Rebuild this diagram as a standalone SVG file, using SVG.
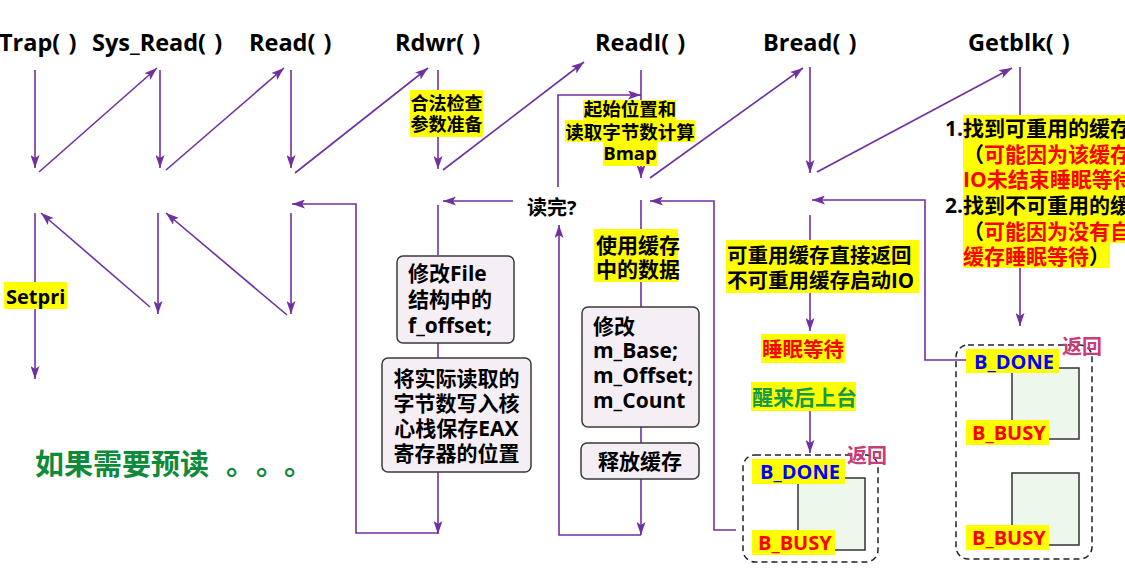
<svg xmlns="http://www.w3.org/2000/svg" width="1125" height="569" viewBox="0 0 1125 569">
<style>
text{font-family:"Open Sans","Noto Sans CJK SC",sans-serif;font-weight:bold;fill:#000}
.t{font-size:23.5px;word-spacing:2px}
.cj{font-family:"Noto Sans CJK SC",sans-serif}
.hl{fill:#ffff00}
.box{fill:#f5eff5;stroke:#3a3a3a;stroke-width:1.5}
.dash{fill:none;stroke:#222;stroke-width:1.5;stroke-dasharray:6 4}
.buf{fill:#edf7ec;stroke:#333;stroke-width:1.5}
.ln{fill:none;stroke:#7030a0;stroke-width:1.6}
.ar{marker-end:url(#ah)}
.red{fill:#ff0000}
.blue{fill:#0000ff}
.back{fill:#c83c78;font-size:20px}
.grn{fill:#0f8a3a;font-size:29px}
</style>
<defs>
<marker id="ah" viewBox="0 0 13 9" refX="13" refY="4.5" markerWidth="13" markerHeight="9" markerUnits="userSpaceOnUse" orient="auto">
<path d="M0,0 L13,4.5 L0,9 L3,4.5 z" fill="#7030a0"/>
</marker>
</defs>
<rect width="1125" height="569" fill="#fff"/>

<g id="connectors">
<path class="ln ar" d="M35,70 V168"/>
<path class="ln ar" d="M39,172 L157,68"/>
<path class="ln ar" d="M160,70 V168"/>
<path class="ln ar" d="M166,170 L284,68"/>
<path class="ln ar" d="M291,70 V168"/>
<path class="ln ar" d="M295,173 L428,68"/>
<path class="ln ar" d="M438,70 V169"/>
<path class="ln ar" d="M443,170 L584,62"/>
<path class="ln ar" d="M641,70 V178"/>
<path class="ln ar" d="M558,187 V95 H641"/>
<path class="ln ar" d="M650,178 L803,68"/>
<path class="ln ar" d="M810,67 V173"/>
<path class="ln ar" d="M817,172 L1012,68"/>
<path class="ln ar" d="M1020,67 V326"/>
<path class="ln ar" d="M35,213 V379"/>
<path class="ln ar" d="M150,307 L41,213"/>
<path class="ln ar" d="M158,213 V314"/>
<path class="ln ar" d="M287,315 L166,213"/>
<path class="ln ar" d="M291,213 V314"/>
<path class="ln ar" d="M438,533 H356 V204 H292"/>
<path class="ln ar" d="M513,201 H443"/>
<path class="ln" d="M438,205 V255"/>
<path class="ln" d="M438,343 V358"/>
<path class="ln ar" d="M438,472 V534"/>
<path class="ln ar" d="M641,479 V535"/>
<path class="ln ar" d="M641,535 H559 V225"/>
<path class="ln" d="M641,200 V307"/>
<path class="ln" d="M641,427 V443"/>
<path class="ln ar" d="M736,530 H714 V201 H650"/>
<path class="ln ar" d="M810,215 V331"/>
<path class="ln ar" d="M810,411 V453"/>
<path class="ln ar" d="M966,360 H925 V200 H812"/>
</g>

<g id="titles">
<text class="t" x="-1" y="51">Trap( )</text>
<text class="t" x="92" y="51">Sys_Read( )</text>
<text class="t" x="249" y="51">Read( )</text>
<text class="t" x="395" y="51">Rdwr( )</text>
<text class="t" x="595" y="51">ReadI( )</text>
<text class="t" x="763" y="51">Bread( )</text>
<text class="t" x="968" y="51">Getblk( )</text>
</g>

<g id="setpri">
<rect class="hl" x="4" y="282" width="63" height="27"/>
<text x="6" y="304" font-size="20">Setpri</text>
</g>

<g id="rdwr-label">
<rect class="hl" x="410" y="90" width="73" height="47"/>
<text class="cj" x="446.5" y="110" font-size="18" text-anchor="middle">合法检查</text>
<text class="cj" x="446.5" y="131" font-size="18" text-anchor="middle">参数准备</text>
</g>

<g id="readi-label">
<rect class="hl" x="583" y="100" width="93" height="20"/>
<rect class="hl" x="565" y="120" width="130" height="22"/>
<rect class="hl" x="603" y="142" width="54" height="24"/>
<text class="cj" x="630" y="116" font-size="18.5" text-anchor="middle">起始位置和</text>
<text class="cj" x="630" y="139" font-size="18.5" text-anchor="middle">读取字节数计算</text>
<text x="630" y="160" font-size="18.5" text-anchor="middle">Bmap</text>
</g>

<g id="read-done">
<text x="527" y="215" font-size="20">读完?</text>
</g>

<g id="file-box">
<rect class="box" x="397" y="256" width="117" height="87" rx="6"/>
<text x="408" y="281" font-size="21">修改File</text>
<text x="408" y="307" font-size="21">结构中的</text>
<text x="408" y="333" font-size="21">f_offset;</text>
</g>

<g id="eax-box">
<rect class="box" x="382" y="358" width="149" height="114" rx="6"/>
<text x="456.5" y="386" font-size="21" text-anchor="middle">将实际读取的</text>
<text x="456.5" y="411" font-size="21" text-anchor="middle">字节数写入核</text>
<text x="456.5" y="436" font-size="21" text-anchor="middle">心栈保存EAX</text>
<text x="456.5" y="461" font-size="21" text-anchor="middle">寄存器的位置</text>
</g>

<g id="use-buffer">
<rect class="hl" x="594" y="229" width="84" height="53"/>
<text class="cj" x="596" y="253" font-size="21">使用缓存</text>
<text class="cj" x="596" y="277" font-size="21">中的数据</text>
</g>

<g id="mbase-box">
<rect class="box" x="582" y="307" width="117" height="120" rx="6"/>
<text x="593" y="334" font-size="21">修改</text>
<text x="593" y="358" font-size="21">m_Base;</text>
<text x="593" y="383" font-size="21">m_Offset;</text>
<text x="593" y="408" font-size="21">m_Count</text>
</g>

<g id="release-box">
<rect class="box" x="581" y="443" width="118" height="36" rx="6"/>
<text x="640" y="469" font-size="21" text-anchor="middle">释放缓存</text>
</g>

<g id="bread-label">
<rect class="hl" x="726" y="240" width="193" height="53"/>
<text x="727" y="263" font-size="20.5">可重用缓存直接返回</text>
<text x="727" y="288" font-size="20.5">不可重用缓存启动IO</text>
</g>

<g id="sleep">
<rect class="hl" x="761" y="334" width="84" height="29"/>
<text class="red" x="762" y="357" font-size="20.5">睡眠等待</text>
</g>

<g id="wake">
<rect class="hl" x="751" y="382" width="105" height="29"/>
<text x="752" y="405" font-size="21" style="fill:#129a4a">醒来后上台</text>
</g>

<g id="buffer-small">
<rect class="dash" x="743" y="455" width="135" height="107" rx="12"/>
<rect class="buf" x="798" y="478" width="67" height="72"/>
<rect class="hl" x="752" y="459" width="93" height="25"/>
<text class="blue" x="760" y="479" font-size="20">B_DONE</text>
<rect class="hl" x="752" y="530" width="83" height="25"/>
<text class="red" x="758" y="550" font-size="20">B_BUSY</text>
<text class="back cj" x="847" y="463">返回</text>
</g>

<g id="getblk-label">
<rect class="hl" x="963" y="115" width="162" height="128"/>
<rect class="hl" x="963" y="243" width="147" height="25"/>
<text font-size="21" y="136"><tspan x="945">1.</tspan><tspan x="963">找到可重用的缓存</tspan></text>
<text font-size="21" y="162" x="963">（<tspan class="red">可能因为该缓存</tspan></text>
<text class="red" font-size="21" y="187" x="963">IO未结束睡眠等待</text>
<text font-size="21" y="213"><tspan x="945">2.</tspan><tspan x="963">找到不可重用的缓</tspan></text>
<text font-size="21" y="239" x="963">（<tspan class="red">可能因为没有自</tspan></text>
<text font-size="21" y="264" x="963"><tspan class="red">缓存睡眠等待</tspan>）</text>
</g>

<g id="buffer-large">
<rect class="dash" x="956" y="345" width="136" height="214" rx="12"/>
<rect class="buf" x="1012" y="368" width="67" height="71"/>
<rect class="buf" x="1012" y="473" width="67" height="72"/>
<rect class="hl" x="966" y="349" width="93" height="24"/>
<text class="blue" x="974" y="369" font-size="20">B_DONE</text>
<rect class="hl" x="966" y="420" width="83" height="25"/>
<text class="red" x="972" y="440" font-size="20">B_BUSY</text>
<rect class="hl" x="966" y="525" width="83" height="25"/>
<text class="red" x="972" y="545" font-size="20">B_BUSY</text>
<text class="back cj" x="1062" y="354">返回</text>
</g>

<g id="readahead">
<text class="cj grn" x="35" y="475">如果需要预读<tspan x="226">。</tspan><tspan x="256">。</tspan><tspan x="284">。</tspan></text>
</g>
</svg>
